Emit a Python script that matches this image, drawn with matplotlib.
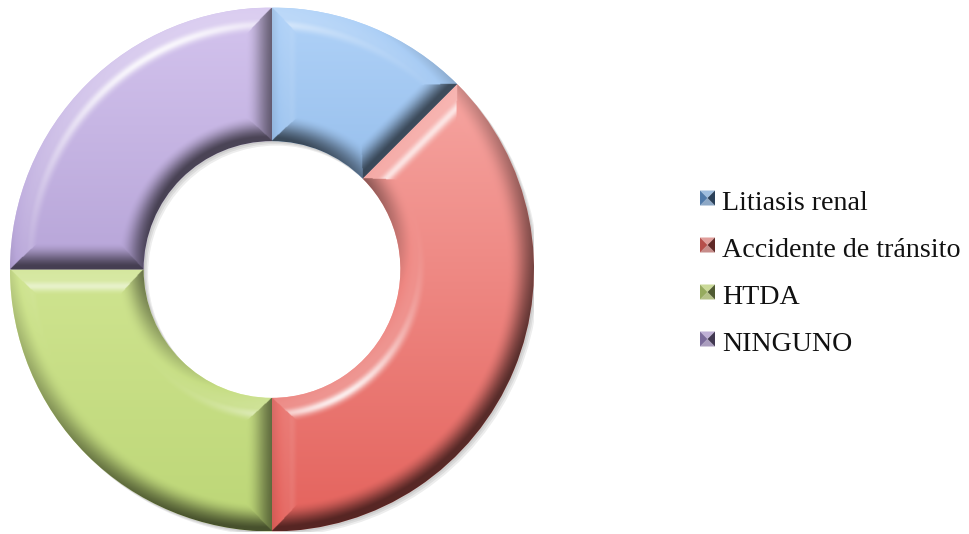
import numpy as np
import matplotlib
matplotlib.use("Agg")
import matplotlib.pyplot as plt
from matplotlib.patches import Polygon, Wedge

# Data
categories = ["Litiasis renal", "Accidente de tránsito", "HTDA", "NINGUNO"]
values = [1, 3, 2, 2]

# Face colours: lighter tone at the top of the ring, deeper tone at the bottom
top_colors = ["#b0d2f8", "#f9b0ac", "#e2f2aa", "#d4c4ee"]
bottom_colors = ["#6498d4", "#e4625c", "#bcd676", "#9a86c2"]

W, H, DPI = 970, 534, 100
fig = plt.figure(figsize=(W / DPI, H / DPI), dpi=DPI)
fig.patch.set_facecolor("white")

# Ring axes: centre at (272, 269) px, outer radius 262 px
cx, cy, R = 272, 269.5, 262
ax = fig.add_axes([(cx - R) / W, (H - cy - R) / H, 2 * R / W, 2 * R / H])

ring_width = 0.51
wedges, _ = ax.pie(values, startangle=90, counterclock=False, radius=1,
                   wedgeprops=dict(width=ring_width, linewidth=0, zorder=2),
                   colors=top_colors)


def hex_rgb(h):
    return np.array(matplotlib.colors.to_rgb(h))


# Soft drop shadow below-right of the ring
px = 1.0 / R
for w in wedges:
    for off in (1.5, 3.0, 4.5):
        sh = Wedge((off * px, -off * px), w.r, w.theta1, w.theta2, width=w.width,
                   facecolor="black", alpha=0.07, linewidth=0, zorder=1)
        ax.add_patch(sh)

# Grid used for the bevel shading of each segment
N = 900
gx = np.linspace(-1, 1, N)
X, Y = np.meshgrid(gx, gx[::-1])
Rr = np.hypot(X, Y)
Ang = np.degrees(np.arctan2(Y, X))

light = np.array([-0.42, 0.78, 1.0])
light = light / np.linalg.norm(light)
half = light + np.array([0, 0, 1.0])
half = half / np.linalg.norm(half)
bevel = 0.10


def edge_dist(theta):
    d = (Ang - theta + 180) % 360 - 180
    dist = Rr * np.abs(np.sin(np.radians(d)))
    dist[np.abs(d) > 90] = 10
    return dist


for i, w in enumerate(wedges):
    t1, t2 = sorted([w.theta1, w.theta2])
    r_out = w.r
    r_in = w.r - w.width
    ur = np.stack([X / np.maximum(Rr, 1e-9), Y / np.maximum(Rr, 1e-9)])

    dists = [r_out - Rr, Rr - r_in, edge_dist(t1), edge_dist(t2)]
    normals = [
        ur,
        -ur,
        np.stack([np.full_like(X, np.sin(np.radians(t1))),
                  np.full_like(X, -np.cos(np.radians(t1)))]),
        np.stack([np.full_like(X, -np.sin(np.radians(t2))),
                  np.full_like(X, np.cos(np.radians(t2)))]),
    ]
    D = np.stack(dists)
    k = np.argmin(D, axis=0)
    d = np.take_along_axis(D, k[None], axis=0)[0]
    nx = np.choose(k, [n[0] for n in normals])
    ny = np.choose(k, [n[1] for n in normals])

    s = np.clip(1 - d / bevel, 0, 1)
    slope = 1.7 * s ** 1.5
    Nx, Ny, Nz = nx * slope, ny * slope, np.ones_like(X)
    norm = np.sqrt(Nx ** 2 + Ny ** 2 + Nz ** 2)
    Nx, Ny, Nz = Nx / norm, Ny / norm, Nz / norm

    diff = Nx * light[0] + Ny * light[1] + Nz * light[2] - light[2]
    spec = np.clip(Nx * half[0] + Ny * half[1] + Nz * half[2], 0, 1) ** 40
    spec0 = half[2] ** 40
    spec = np.clip(spec - spec0, 0, 1)

    t = ((1 - Y) / 2)[..., None]
    base = hex_rgb(top_colors[i]) * (1 - t) + hex_rgb(bottom_colors[i]) * t
    diff = diff[..., None]
    col = np.where(diff > 0, base + (1 - base) * np.clip(diff * 0.9, 0, 1),
                   base * (1 + np.clip(diff * 0.8, -0.62, 0)))
    col = col + (1 - col) * (0.9 * spec[..., None])
    col = np.clip(col, 0, 1)

    im = ax.imshow(col, extent=(-1, 1, -1, 1), origin="upper",
                   interpolation="bilinear", zorder=3)
    im.set_clip_path(w)

ax.set_xlim(-1, 1)
ax.set_ylim(-1, 1)
ax.set_aspect("equal")
ax.axis("off")

# Legend with small pyramid-shaded squares
baselines = [210, 257, 304, 351]
sq_x0, sq = 700, 15
text_x = 722
for i, name in enumerate(categories):
    yc = baselines[i] - 12
    x0, x1 = sq_x0, sq_x0 + sq
    y0, y1 = yc - sq / 2, yc + sq / 2
    mx, my = (x0 + x1) / 2, yc
    top_c = hex_rgb(top_colors[i]) * 0.9
    bot_c = hex_rgb(top_colors[i]) * 0.8
    mid_c = hex_rgb(bottom_colors[i]) * 0.8
    dark_c = hex_rgb(bottom_colors[i]) * 0.42
    tris = [
        ([(x0, y0), (x1, y0), (mx, my)], top_c),     # top
        ([(x0, y1), (x1, y1), (mx, my)], bot_c),     # bottom
        ([(x0, y0), (x0, y1), (mx, my)], mid_c),     # left
        ([(x1, y0), (x1, y1), (mx, my)], dark_c),    # right
    ]
    for pts, c in tris:
        fpts = [(p / W, 1 - q / H) for p, q in pts]
        fig.patches.append(Polygon(fpts, closed=True, transform=fig.transFigure,
                                   facecolor=c, edgecolor="none"))
    fig.text(text_x / W, 1 - baselines[i] / H, name, fontsize=20.2,
             family="Liberation Serif", va="baseline", ha="left", color="#111111")

fig.savefig("out.png", dpi=DPI, facecolor="white")
